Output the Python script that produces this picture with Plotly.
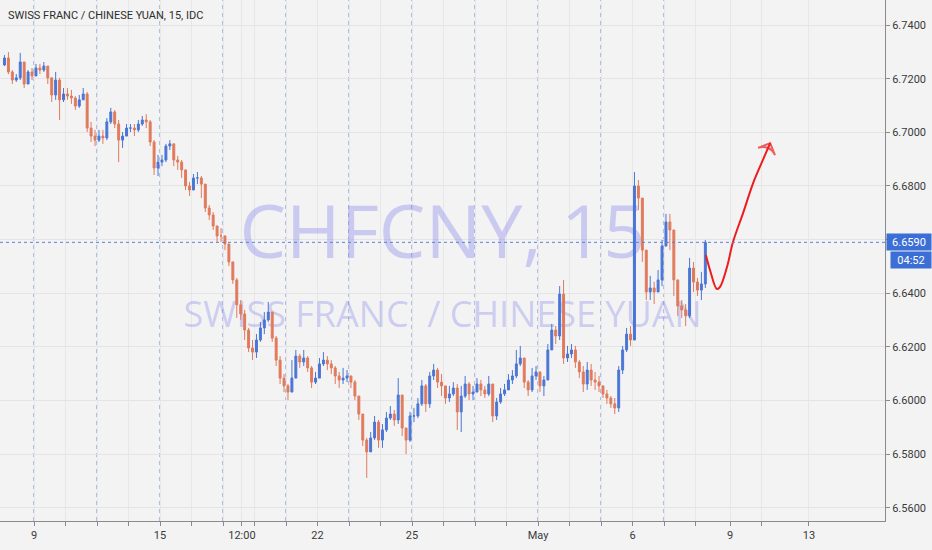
import numpy as np
import plotly.graph_objects as go

# ---------------- data (CHFCNY, 8 bars per trading day) ----------------
first_day = -1          # trading-day index of the first bar (Apr 8); Apr 9 = 0
bars_per_day = 8
first_open = 6.7251

close = [
    6.7277, 6.7225, 6.7195, 6.7203, 6.7262, 6.7180, 6.7225, 6.7210,   # Apr 8
    6.7240, 6.7232, 6.7247, 6.7203, 6.7139, 6.7195, 6.7121, 6.7143,   # Apr 9
    6.7135, 6.7128, 6.7098, 6.7121, 6.7143, 6.7016, 6.6986, 6.6971,   # Apr 10
    6.6986, 6.6979, 6.7039, 6.7076, 6.7031, 6.6971, 6.6986, 6.7016,   # Apr 11
    6.7016, 6.7009, 6.7031, 6.7046, 6.7039, 6.6964, 6.6867, 6.6889,   # Apr 12
    6.6897, 6.6949, 6.6957, 6.6897, 6.6889, 6.6860, 6.6800, 6.6785,   # Apr 15
    6.6830, 6.6830, 6.6807, 6.6718, 6.6692, 6.6651, 6.6614, 6.6614,   # Apr 16
    6.6584, 6.6517, 6.6450, 6.6357, 6.6323, 6.6263, 6.6196, 6.6181,   # Apr 17
    6.6226, 6.6271, 6.6301, 6.6330, 6.6233, 6.6151, 6.6084, 6.6055,   # Apr 18
    6.6032, 6.6084, 6.6166, 6.6144, 6.6159, 6.6122, 6.6069, 6.6084,   # Apr 19
    6.6137, 6.6151, 6.6137, 6.6122, 6.6092, 6.6077, 6.6084, 6.6092,   # Apr 22
    6.6069, 6.6017, 6.5950, 6.5853, 6.5809, 6.5861, 6.5920, 6.5853,   # Apr 23
    6.5891, 6.5935, 6.5950, 6.5928, 6.6021, 6.5898, 6.5853, 6.5943,   # Apr 24
    6.5943, 6.5988, 6.6055, 6.5988, 6.6092, 6.6114, 6.6069, 6.6055,   # Apr 25
    6.6010, 6.6025, 6.6047, 6.5958, 6.6017, 6.6062, 6.6025, 6.6032,   # Apr 26
    6.6062, 6.6040, 6.6025, 6.6062, 6.5943, 6.5995, 6.6025, 6.6040,   # Apr 29
    6.6077, 6.6092, 6.6137, 6.6159, 6.6069, 6.6040, 6.6092, 6.6107,   # Apr 30
    6.6055, 6.6077, 6.6189, 6.6263, 6.6241, 6.6397, 6.6159, 6.6174,   # May 1
    6.6189, 6.6144, 6.6107, 6.6062, 6.6114, 6.6077, 6.6069, 6.6055,   # May 2
    6.6025, 6.6010, 6.5988, 6.5973, 6.6114, 6.6189, 6.6248, 6.6226,   # May 3
    6.6800, 6.6755, 6.6561, 6.6405, 6.6420, 6.6405, 6.6450, 6.6576,   # May 6
    6.6666, 6.6636, 6.6450, 6.6353, 6.6338, 6.6316, 6.6494, 6.6442,   # May 7
    6.6412, 6.6435, 6.6590,                                           # May 8
]
high = [
    6.7288, 6.7299, 6.7232, 6.7217, 6.7296, 6.7247, 6.7232, 6.7240,
    6.7255, 6.7255, 6.7262, 6.7247, 6.7180, 6.7225, 6.7203, 6.7165,
    6.7165, 6.7158, 6.7135, 6.7139, 6.7165, 6.7150, 6.7039, 6.7009,
    6.7009, 6.7009, 6.7053, 6.7091, 6.7083, 6.7046, 6.7001, 6.7031,
    6.7031, 6.7031, 6.7046, 6.7061, 6.7068, 6.7046, 6.6971, 6.6916,
    6.6916, 6.6957, 6.6971, 6.6949, 6.6912, 6.6897, 6.6852, 6.6815,
    6.6845, 6.6852, 6.6837, 6.6785, 6.6729, 6.6703, 6.6651, 6.6643,
    6.6606, 6.6584, 6.6517, 6.6457, 6.6375, 6.6338, 6.6271, 6.6226,
    6.6248, 6.6293, 6.6330, 6.6368, 6.6316, 6.6241, 6.6166, 6.6099,
    6.6062, 6.6151, 6.6189, 6.6174, 6.6189, 6.6166, 6.6129, 6.6107,
    6.6159, 6.6181, 6.6166, 6.6151, 6.6129, 6.6107, 6.6122, 6.6114,
    6.6092, 6.6077, 6.6017, 6.5928, 6.5861, 6.5883, 6.5943, 6.5928,
    6.5913, 6.5958, 6.5980, 6.5965, 6.6084, 6.6002, 6.5898, 6.5958,
    6.5973, 6.6010, 6.6077, 6.6062, 6.6107, 6.6137, 6.6122, 6.6099,
    6.6040, 6.6055, 6.6069, 6.6062, 6.6055, 6.6092, 6.6069, 6.6055,
    6.6084, 6.6077, 6.6055, 6.6092, 6.6040, 6.6010, 6.6047, 6.6062,
    6.6099, 6.6114, 6.6189, 6.6204, 6.6151, 6.6077, 6.6122, 6.6129,
    6.6099, 6.6092, 6.6211, 6.6286, 6.6278, 6.6427, 6.6450, 6.6204,
    6.6211, 6.6204, 6.6151, 6.6129, 6.6144, 6.6137, 6.6107, 6.6092,
    6.6055, 6.6040, 6.6017, 6.6010, 6.6129, 6.6204, 6.6271, 6.6278,
    6.6852, 6.6822, 6.6748, 6.6517, 6.6465, 6.6443, 6.6487, 6.6599,
    6.6696, 6.6696, 6.6561, 6.6412, 6.6375, 6.6360, 6.6532, 6.6517,
    6.6457, 6.6480, 6.6599,
]
low = [
    6.7247, 6.7217, 6.7180, 6.7188, 6.7195, 6.7165, 6.7195, 6.7195,
    6.7217, 6.7217, 6.7225, 6.7180, 6.7113, 6.7121, 6.7046, 6.7113,
    6.7121, 6.7106, 6.7083, 6.7091, 6.7121, 6.7001, 6.6964, 6.6949,
    6.6964, 6.6957, 6.6971, 6.7031, 6.7016, 6.6889, 6.6942, 6.6986,
    6.7001, 6.6986, 6.7001, 6.7024, 6.7016, 6.6949, 6.6841, 6.6837,
    6.6874, 6.6889, 6.6934, 6.6874, 6.6860, 6.6830, 6.6785, 6.6763,
    6.6807, 6.6807, 6.6755, 6.6703, 6.6673, 6.6636, 6.6591, 6.6591,
    6.6561, 6.6502, 6.6435, 6.6308, 6.6301, 6.6226, 6.6181, 6.6151,
    6.6159, 6.6219, 6.6248, 6.6293, 6.6219, 6.6129, 6.6062, 6.6032,
    6.6002, 6.6032, 6.6107, 6.6122, 6.6129, 6.6107, 6.6047, 6.6062,
    6.6114, 6.6129, 6.6114, 6.6099, 6.6062, 6.6047, 6.6062, 6.6069,
    6.6047, 6.6002, 6.5928, 6.5831, 6.5712, 6.5809, 6.5853, 6.5824,
    6.5824, 6.5883, 6.5928, 6.5906, 6.5913, 6.5868, 6.5801, 6.5846,
    6.5920, 6.5935, 6.5980, 6.5958, 6.5973, 6.6077, 6.6047, 6.6017,
    6.5988, 6.5995, 6.6017, 6.5891, 6.5883, 6.6010, 6.6002, 6.6002,
    6.6032, 6.6017, 6.6010, 6.6017, 6.5920, 6.5928, 6.5988, 6.6017,
    6.6047, 6.6062, 6.6084, 6.6129, 6.6047, 6.6017, 6.6032, 6.6077,
    6.6032, 6.6017, 6.6144, 6.6196, 6.6211, 6.6226, 6.6137, 6.6144,
    6.6159, 6.6122, 6.6084, 6.6032, 6.6040, 6.6055, 6.6040, 6.6032,
    6.6010, 6.5988, 6.5973, 6.5950, 6.5958, 6.6099, 6.6181, 6.6204,
    6.6770, 6.6710, 6.6517, 6.6375, 6.6375, 6.6360, 6.6412, 6.6427,
    6.6599, 6.6561, 6.6390, 6.6316, 6.6308, 6.6278, 6.6308, 6.6405,
    6.6390, 6.6375, 6.6420,
]

last_price = 6.6590
countdown = "04:52"

# hand-drawn forecast path (trading-day index, price)
fc_day = [21.33, 21.46, 21.68, 21.78, 22.00, 22.19, 22.51, 22.83, 23.14, 23.37]
fc_price = [6.6543, 6.6487, 6.6416, 6.6424, 6.6498, 6.6591, 6.6699, 6.6811, 6.6897, 6.6960]

# x-axis labels (trading-day index)
tick_days = [0, 4, 6.6, 9, 12, 16, 19, 22.1, 24.6]
tick_labels = ["9", "15", "12:00", "22", "25", "May", "6", "9", "13"]
minor_tick_days = list(range(0, 22)) + [23.1]
session_days = list(range(0, 22))      # dashed session separators

y_ticks = [6.56, 6.58, 6.60, 6.62, 6.64, 6.66, 6.68, 6.70, 6.72, 6.74]

# ---------------- build ----------------
n = len(close)
x = first_day + (np.arange(n) + 0.5) / bars_per_day
opn = [first_open] + close[:-1]
hi = [max(h, o, c) for h, o, c in zip(high, opn, close)]
lo = [min(l, o, c) for l, o, c in zip(low, opn, close)]

# the y label hidden behind the last-price box is left blank
y_text = ["" if abs(t - last_price) < 0.004 else f"{t:.4f}" for t in y_ticks]

X_RANGE = [-1.0794, 27.016]
Y_RANGE = [6.55514, 6.74932]

UP = "#4a76d6"
DOWN = "#e07a5c"
BG = "#f3f3f3"
FONT = "Roboto"

fig = go.Figure()

# watermark on the base (hidden) axes so it sits beneath the candles
fig.add_trace(go.Scatter(
    x=[0.5, 0.5], y=[0.54, 0.39], mode="text",
    text=["CHFCNY, 15", "SWISS FRANC  / CHINESE YUAN"],
    textfont=dict(family="Open Sans", size=[74, 36], color="rgba(110,110,235,0.30)"),
    hoverinfo="skip", showlegend=False, xaxis="x", yaxis="y", cliponaxis=False))

fig.add_trace(go.Candlestick(
    x=x, open=opn, high=hi, low=lo, close=close,
    increasing=dict(line=dict(color=UP, width=1), fillcolor=UP),
    decreasing=dict(line=dict(color=DOWN, width=1), fillcolor=DOWN),
    whiskerwidth=0, showlegend=False, hoverinfo="skip",
    xaxis="x2", yaxis="y2"))

sizes = [0] * (len(fc_day) - 1) + [13]
fig.add_trace(go.Scatter(
    x=fc_day, y=fc_price, mode="lines+markers",
    line=dict(color="#ee1c1c", width=2, shape="spline", smoothing=1.0),
    marker=dict(size=sizes, symbol="arrow-wide-open", angleref="previous",
                color="#ee1c1c", line=dict(color="#ee1c1c", width=2)),
    hoverinfo="skip", showlegend=False, xaxis="x2", yaxis="y2"))

all_ticks = sorted(set(minor_tick_days + tick_days))
all_text = [tick_labels[tick_days.index(t)] if t in tick_days else "" for t in all_ticks]

shapes = []
for d in session_days:
    shapes.append(dict(type="line", xref="x2", yref="paper", x0=d, x1=d, y0=0, y1=1,
                       line=dict(color="#6688de", width=1, dash="4px,4px"), layer="between"))
shapes.append(dict(type="line", xref="paper", yref="y2", x0=0, x1=1, y0=last_price, y1=last_price,
                   line=dict(color="#5a7fdc", width=1, dash="dot"), layer="above"))

fig.update_layout(
    width=932, height=550,
    margin=dict(l=0, r=47, t=0, b=29),
    paper_bgcolor=BG, plot_bgcolor=BG,
    font=dict(family=FONT, size=11, color="#3a3a3a"),
    showlegend=False,
    xaxis=dict(domain=[0, 1], range=[0, 1], visible=False, fixedrange=True),
    yaxis=dict(domain=[0, 1], range=[0, 1], visible=False, fixedrange=True),
    xaxis2=dict(overlaying="x", anchor="y2", range=X_RANGE, tickmode="array",
                tickvals=all_ticks, ticktext=all_text, ticks="outside", ticklen=4,
                tickcolor="#8a8a8a", showline=True, linecolor="#8a8a8a", linewidth=1,
                showgrid=True, gridcolor="#e7e7e7", zeroline=False,
                rangeslider=dict(visible=False), fixedrange=True,
                tickfont=dict(family=FONT, size=11, color="#3a3a3a")),
    yaxis2=dict(overlaying="y", anchor="x2", side="right", range=Y_RANGE,
                tickmode="array", tickvals=y_ticks, ticktext=y_text,
                ticks="outside", ticklen=4, tickcolor="#8a8a8a",
                showline=True, linecolor="#8a8a8a", linewidth=1,
                showgrid=True, gridcolor="#e4e4e4", zeroline=False, fixedrange=True,
                tickfont=dict(family=FONT, size=11, color="#3a3a3a")),
    shapes=shapes,
    annotations=[
        dict(text="SWISS FRANC / CHINESE YUAN, 15, IDC", xref="paper", yref="paper",
             x=0, y=1, xanchor="left", yanchor="top", xshift=6, yshift=-7,
             showarrow=False, font=dict(family=FONT, size=11, color="#2e2e2e")),
        dict(text=f"{last_price:.4f}", xref="paper", yref="y2", x=1, y=last_price,
             xanchor="left", yanchor="middle", xshift=1, showarrow=False,
             bgcolor="#3b6fd6", width=42, height=14, borderpad=1,
             font=dict(family=FONT, size=11, color="white")),
        dict(text=countdown, xref="paper", yref="y2", x=1, y=last_price,
             xanchor="left", yanchor="middle", xshift=5, yshift=-18, showarrow=False,
             bgcolor="#3b6fd6", width=38, height=14, borderpad=1,
             font=dict(family=FONT, size=11, color="white")),
    ],
)

fig.write_html("out.html", config={"displayModeBar": False},
               post_script="document.body.style.margin='0px';document.body.style.overflow='hidden';")
